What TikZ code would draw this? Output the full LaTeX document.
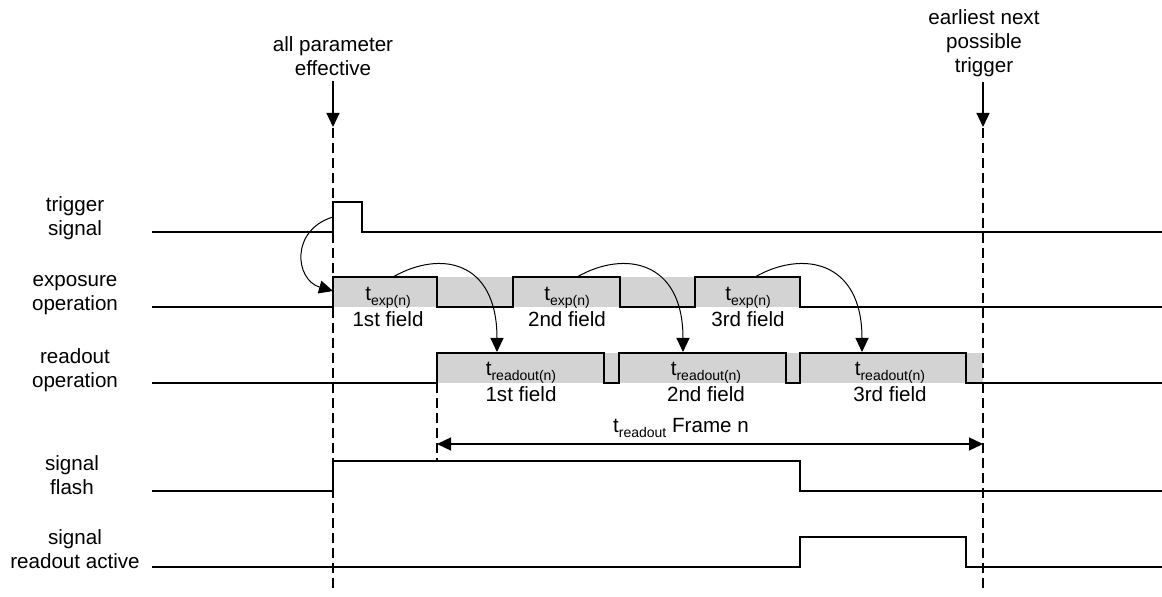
\documentclass[tikz,border=0pt]{standalone}
\usepackage{fontspec}
\setmainfont{Liberation Sans}
\usetikzlibrary{arrows.meta}
\definecolor{band}{HTML}{D3D3D3}
\newcommand{\tsub}[1]{t\raisebox{-2.6pt}{\fontsize{7}{8}\selectfont #1}}

\begin{document}
\begin{tikzpicture}[x=0.5pt, y=-0.5pt, >={Triangle[length=7pt,width=6.5pt]},
    font=\fontsize{10.3}{12}\selectfont, line width=0.65pt,
    lbl/.style={align=center, inner sep=0pt},
    guide/.style={dash pattern=on 5pt off 2.5pt, line width=0.6pt}]
  \useasboundingbox (0,0) rectangle (1162,597);
  % grey bands behind the fields
  \fill[band] (333,277) rectangle (800,307);
  \fill[band] (437,353) rectangle (983,383);
  \draw[guide] (333,128) -- (333,592);
  \draw[guide] (983,128) -- (983,592);
  \draw[guide] (437,383) -- (437,460);
  % signal names
  \node[lbl] (trig) at (75,218) {trigger\\signal};
  \node[lbl] (expo) at (75,295.5) {exposure\\operation};
  \node[lbl] (read) at (75,370) {readout\\operation};
  \node[lbl] (flash) at (72,475) {signal\\flash};
  \node[lbl] (act) at (75,549.5) {signal\\readout active};
  % waveforms
  \draw (152,232) -| (333,202) -| (362,232) -- (1162,232);
  \draw (152,307) -| (333,277) -| (437,307) -| (513,277) -| (620,307) -| (695,277) -| (800,307) -- (1162,307);
  \draw (152,383) -| (437,353) -| (604,383) -| (619,353) -| (786,383) -| (800,353) -| (966,383) -- (1162,383);
  \draw (152,491) -| (333,461) -| (800,491) -- (1162,491);
  \draw (152,567) -| (800,537) -| (966,567) -- (1162,567);
  % events
  \node[lbl, anchor=south] (eff) at (333,76) {all parameter\\effective};
  \node[lbl, anchor=south] (next) at (984,77) {earliest next\\possible\\trigger};
  \coordinate (effTip) at (333,127);
  \coordinate (nextTip) at (983,127);
  \draw[->, shorten <=2.5pt] (eff) -- (effTip);
  \draw[->, shorten <=2.5pt] (next.south -| nextTip) -- (nextTip);
  % trigger starts exposure
  \coordinate (trigOut) at (333,217);
  \coordinate (expIn) at (333,291);
  \draw[->, line width=0.5pt] (trigOut) .. controls (290,230) and (295,280) .. (expIn);
  \foreach \n/\x/\r in {1st/388/521, 2nd/567/706, 3rd/748/890}
    \node[lbl] (exp\n) at (\x,307) {\tsub{exp(n)}\\[1pt]\n\ field};
  \foreach \n/\r in {1st/521, 2nd/706, 3rd/890}
    \node[lbl] (ro\n) at (\r,381.5) {\tsub{readout(n)}\\[1pt]\n\ field};
  % exposure hands over to readout
  \foreach \a/\b in {393/497, 577/683, 755/862} {
    \coordinate (from\a) at (\a,277);
    \coordinate (to\b) at (\b,352);
    \draw[->, line width=0.5pt] (from\a) .. controls (\a+47,250) and (\b,260) .. (to\b);
  }
  % frame time
  \coordinate (roStart) at (437,444);
  \coordinate (roEnd) at (983,444);
  \draw[<->] (roStart) -- (roEnd);
  \node[lbl] (frame) at (681,428) {\tsub{readout} Frame n};
\end{tikzpicture}
\end{document}
